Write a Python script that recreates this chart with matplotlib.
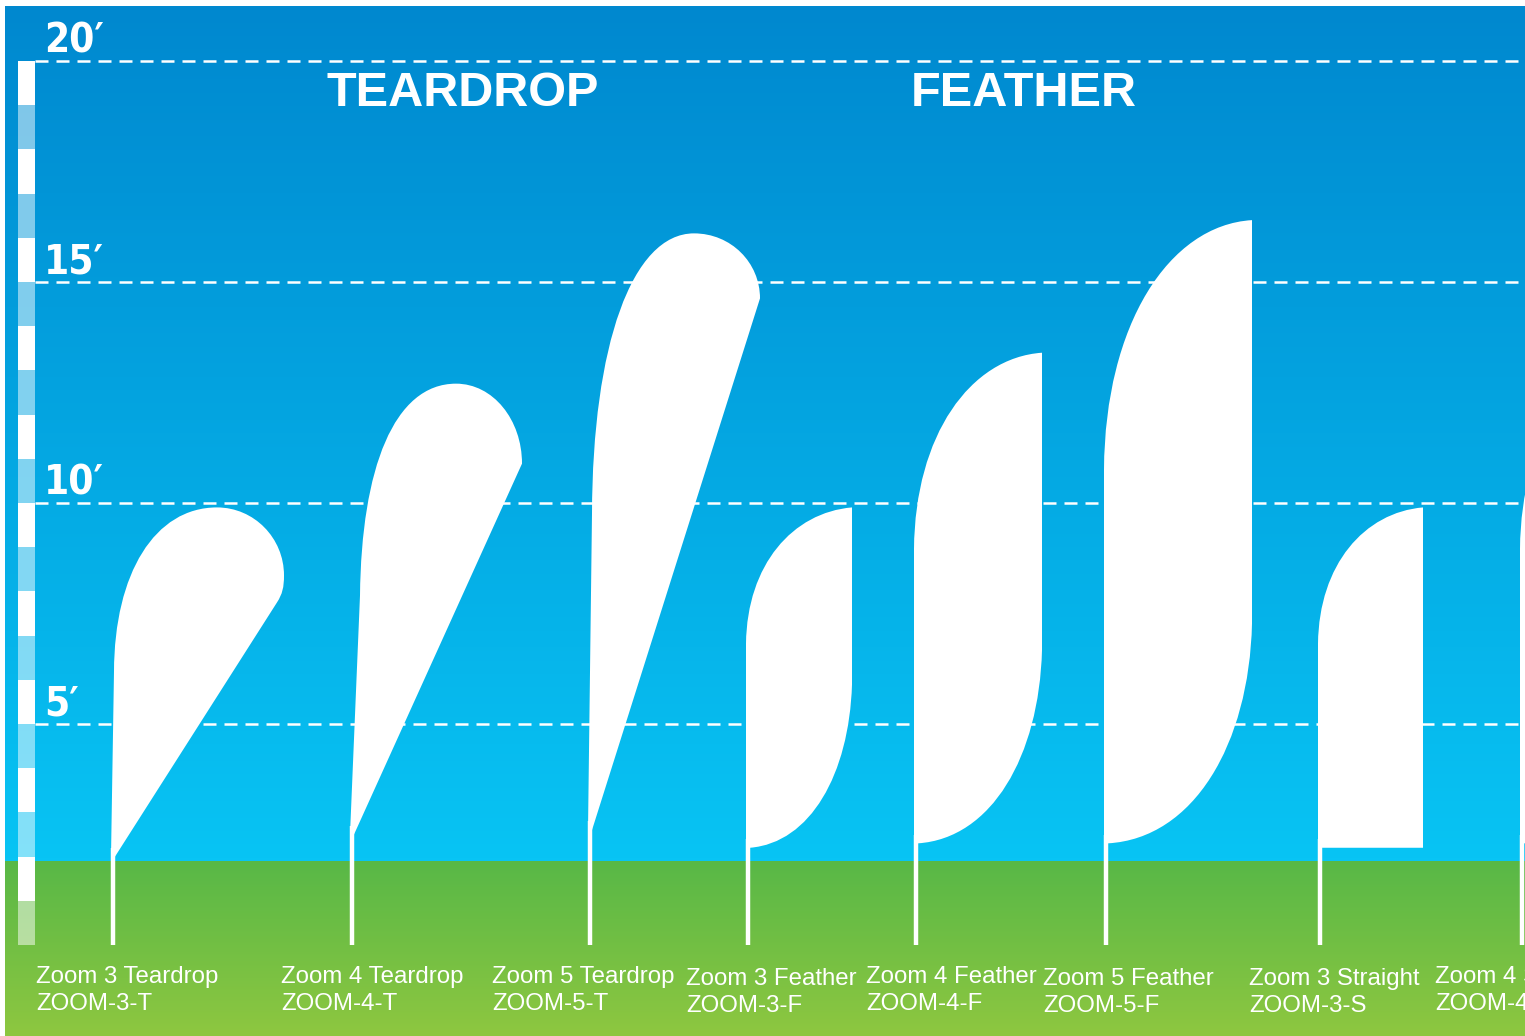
import numpy as np
import matplotlib
matplotlib.use("Agg")
import matplotlib.pyplot as plt
from matplotlib.path import Path
from matplotlib.patches import PathPatch

# chart values
flag_names = ["Zoom 3 Teardrop", "Zoom 4 Teardrop", "Zoom 5 Teardrop",
              "Zoom 3 Feather", "Zoom 4 Feather", "Zoom 5 Feather",
              "Zoom 3 Straight", "Zoom 4 Straight"]
flag_codes = ["ZOOM-3-T", "ZOOM-4-T", "ZOOM-5-T",
              "ZOOM-3-F", "ZOOM-4-F", "ZOOM-5-F",
              "ZOOM-3-S", "ZOOM-4-S"]
flag_types = ["teardrop", "teardrop", "teardrop",
              "feather", "feather", "feather",
              "straight", "straight"]
flag_top_ft = [9.9, 12.7, 16.1, 9.9, 13.4, 16.4, 9.9, 13.4]
flag_bottom_ft = [2.0, 2.5, 2.6, 2.2, 2.3, 2.3, 2.2, 2.3]
group_titles = ["TEARDROP", "FEATHER"]
height_ticks = [5, 10, 15, 20]
tick_labels = ["5\u2032", "10\u2032", "15\u2032", "20\u2032"]
ruler_feet = list(range(20))

# layout, x in picture pixels
pole_x = [113, 352, 590, 748, 916, 1106, 1320, 1522]
flag_width = [171, 170, 170, 104, 126, 146, 103, 126]
label_x = [36, 281, 492, 686, 866, 1043, 1249, 1435]
label_base = [983, 983, 983, 985, 983, 985, 985, 983]
title_x = [463, 1024]
# teardrop head: lean of the pole edge, drop of the widest point, extra rounding below it
head_lean = [1, 8, 2]
head_drop = [68, 80, 65]
head_tail = [27, 0, 0]

W, H = 1525, 1036
PX_PER_FT = 44.2
GROUND_PX = 945
HORIZON_PX = 861


def px2ft(y):
    return (GROUND_PX - y) / PX_PER_FT


def ft2px(f):
    return GROUND_PX - f * PX_PER_FT


def teardrop(p, yt, yb, w, lean, drop, tail):
    h = yb - yt
    ys = yt + 0.47 * h
    tx = p + 104
    sx = p + lean
    verts = [(p - 2, yb), (sx, ys),
             (sx + 0.15 * (lean + 1), ys - 0.6 * (ys - yt)), (tx - 62, yt), (tx, yt),
             (tx + 37, yt), (p + w, yt + drop * 0.45), (p + w, yt + drop)]
    codes = [Path.MOVETO, Path.LINETO] + [Path.CURVE4] * 6
    if tail:
        jx, jy = p + w - 7, yt + drop + tail
        dx, dy = (p + 2) - jx, yb - jy
        n = np.hypot(dx, dy)
        verts += [(p + w, yt + drop + 12), (jx - dx / n * 10, jy - dy / n * 10), (jx, jy)]
        codes += [Path.CURVE4] * 3
    verts += [(p + 2, yb), (p - 2, yb)]
    codes += [Path.LINETO, Path.CLOSEPOLY]
    return verts, codes


def feather(p, yt, yb, w, straight=False):
    h = yb - yt
    ys = yt + 0.4 * h
    verts = [(p - 2, yb), (p - 2, ys),
             (p - 1, ys - 0.58 * (ys - yt)), (p + 0.43 * w, yt + 5), (p + w, yt)]
    codes = [Path.MOVETO, Path.LINETO] + [Path.CURVE4] * 3
    if straight:
        verts += [(p + w, yb), (p - 2, yb)]
        codes += [Path.LINETO, Path.LINETO]
    else:
        yr = yb - (0.2 * h + 95)
        verts += [(p + w, yr),
                  (p + w - 3, yb - 0.45 * (yb - yr)), (p + 0.6 * w, yb - 5), (p + 2, yb),
                  (p - 2, yb)]
        codes += [Path.LINETO] + [Path.CURVE4] * 3 + [Path.LINETO]
    verts.append((p - 2, yb))
    codes.append(Path.CLOSEPOLY)
    return verts, codes


def gradient(c0, c1, n=256):
    t = np.linspace(0, 1, n)[:, None]
    c0 = np.array(c0) / 255.0
    c1 = np.array(c1) / 255.0
    return (c0 + (c1 - c0) * t)[:, None, :]


fig = plt.figure(figsize=(W / 100, H / 100), dpi=100, facecolor="white")
ax = fig.add_axes([0, 0, 1, 1])
ax.set_xlim(0, W)
ax.set_ylim(px2ft(H), px2ft(0))
ax.axis("off")

# sky and grass
ax.imshow(gradient((0, 136, 207), (8, 196, 244)), aspect="auto",
          extent=[5, W, px2ft(HORIZON_PX), px2ft(6)], zorder=0)
ax.imshow(gradient((88, 184, 71), (142, 199, 64)), aspect="auto",
          extent=[5, W, px2ft(H), px2ft(HORIZON_PX)], zorder=0)

# ruler
ruler_colors = [(1, 1, 1, 1.0) if k % 2 else (1, 1, 1, 0.5) for k in ruler_feet]
ax.bar(26.5, 1, bottom=ruler_feet, width=17, color=ruler_colors, linewidth=0, zorder=2)

# height lines and labels
ax.hlines(height_ticks, 35, W, colors="white", linewidth=1.8,
          linestyles=(0, (5.2, 3.2)), zorder=1)
for h, lab in zip(height_ticks, tick_labels):
    ax.text(44, h + 0.2, lab, color="white", fontsize=29, fontweight="bold",
            fontstretch="condensed", family=["DejaVu Sans", "Liberation Sans"],
            va="baseline", ha="left", zorder=3)

for tx, title in zip(title_x, group_titles):
    ax.text(tx, px2ft(106), title, color="white", fontsize=35, fontweight="bold",
            family=["Liberation Sans", "DejaVu Sans"], ha="center", va="baseline", zorder=3)

# flags and poles
k = 0
for i in range(len(flag_names)):
    p = pole_x[i]
    yt = ft2px(flag_top_ft[i])
    yb = ft2px(flag_bottom_ft[i])
    if flag_types[i] == "teardrop":
        verts, codes = teardrop(p, yt, yb, flag_width[i], head_lean[k], head_drop[k], head_tail[k])
        k += 1
    else:
        verts, codes = feather(p, yt, yb, flag_width[i], flag_types[i] == "straight")
    verts = [(x, px2ft(y)) for x, y in verts]
    ax.add_patch(PathPatch(Path(verts, codes), facecolor="white", edgecolor="none", zorder=4))
    ax.vlines(p, 0, flag_bottom_ft[i] + 0.2, colors="white", linewidth=3.2, zorder=4)

    ax.text(label_x[i], px2ft(label_base[i]), flag_names[i], color="white", fontsize=17.3,
            family=["Liberation Sans", "DejaVu Sans"], ha="left", va="baseline", zorder=5)
    ax.text(label_x[i], px2ft(label_base[i] + 27), flag_codes[i], color="white", fontsize=17.3,
            family=["Liberation Sans", "DejaVu Sans"], ha="left", va="baseline", zorder=5)

fig.savefig("out.png", dpi=100, facecolor="white")
